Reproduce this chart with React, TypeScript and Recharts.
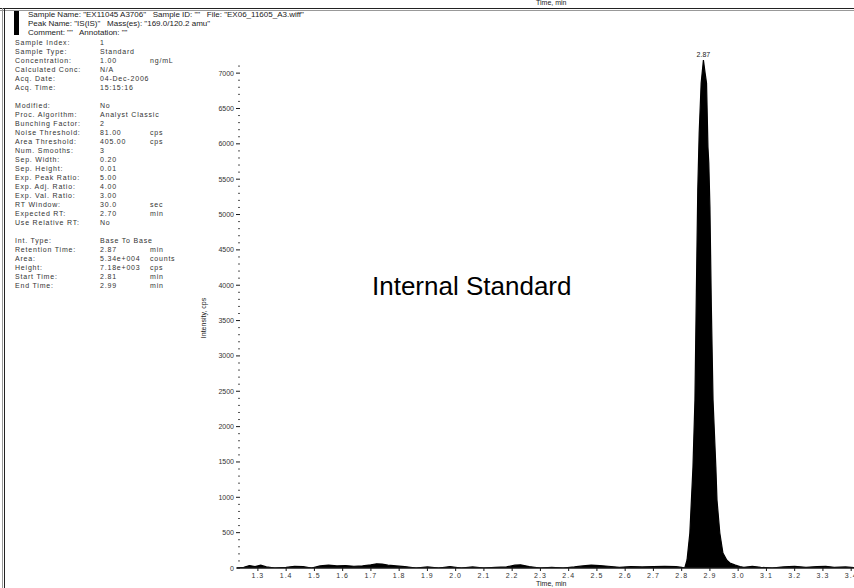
import React from 'react';
import { AreaChart, Area, XAxis, YAxis } from 'recharts';

// Retention time (min) and intensity (cps)
const times = [
  1.226, 1.25, 1.27, 1.29, 1.31, 1.33, 1.36, 1.40, 1.43, 1.46, 1.49, 1.52, 1.55, 1.58, 1.61, 1.64,
  1.67, 1.70, 1.72, 1.74, 1.76, 1.79, 1.82, 1.86, 1.90, 1.94, 1.98, 2.02, 2.06, 2.10, 2.14, 2.18,
  2.21, 2.23, 2.26, 2.30, 2.34, 2.38, 2.42, 2.45, 2.48, 2.51, 2.54, 2.58, 2.62, 2.66, 2.70, 2.74,
  2.78, 2.80,
  2.811, 2.819, 2.829, 2.840, 2.847, 2.852, 2.857, 2.862, 2.869, 2.877, 2.883, 2.888, 2.893, 2.896,
  2.900, 2.905, 2.911, 2.921, 2.925, 2.935, 2.946, 2.960, 2.971, 2.990, 3.006,
  3.02, 3.05, 3.08, 3.12, 3.16, 3.20, 3.24, 3.28, 3.31, 3.34, 3.38, 3.41,
];
const intensity = [
  0, 10, 35, 20, 40, 15, 0, 10, 25, 20, 0, 30, 40, 30, 35, 25,
  30, 45, 60, 55, 40, 30, 20, 0, 15, 0, 20, 0, 15, 0, 10, 15,
  40, 45, 20, 0, 10, 0, 15, 30, 40, 35, 25, 10, 20, 15, 20, 25,
  20, 10,
  0, 113, 495, 1429, 2376, 3900, 5346, 6153, 6860, 7185, 7000, 6860, 5955, 5728,
  5106, 3700, 2376, 1429, 962, 495, 212, 110, 71, 40, 20,
  10, 25, 10, 0, 15, 25, 10, 20, 25, 10, 15, 5,
];
const peakRT = '2.87';

const xTicks = [1.3, 1.4, 1.5, 1.6, 1.7, 1.8, 1.9, 2.0, 2.1, 2.2, 2.3, 2.4, 2.5, 2.6, 2.7, 2.8, 2.9, 3.0, 3.1, 3.2, 3.3, 3.4];
const yMajorTicks = [0, 500, 1000, 1500, 2000, 2500, 3000, 3500, 4000, 4500, 5000, 5500, 6000, 6500, 7000];

const headerLines = [
  'Sample Name: "EX11045 A3706"   Sample ID: ""   File: "EX06_11605_A3.wiff"',
  'Peak Name: "IS(IS)"   Mass(es): "169.0/120.2 amu"',
  'Comment: ""   Annotation: ""',
];

const infoRows: string[][] = [
  ['Sample Index:', '1', ''],
  ['Sample Type:', 'Standard', ''],
  ['Concentration:', '1.00', 'ng/mL'],
  ['Calculated Conc:', 'N/A', ''],
  ['Acq. Date:', '04-Dec-2006', ''],
  ['Acq. Time:', '15:15:16', ''],
  ['', '', ''],
  ['Modified:', 'No', ''],
  ['Proc. Algorithm:', 'Analyst Classic', ''],
  ['Bunching Factor:', '2', ''],
  ['Noise Threshold:', '81.00', 'cps'],
  ['Area Threshold:', '405.00', 'cps'],
  ['Num. Smooths:', '3', ''],
  ['Sep. Width:', '0.20', ''],
  ['Sep. Height:', '0.01', ''],
  ['Exp. Peak Ratio:', '5.00', ''],
  ['Exp. Adj. Ratio:', '4.00', ''],
  ['Exp. Val. Ratio:', '3.00', ''],
  ['RT Window:', '30.0', 'sec'],
  ['Expected RT:', '2.70', 'min'],
  ['Use Relative RT:', 'No', ''],
  ['', '', ''],
  ['Int. Type:', 'Base To Base', ''],
  ['Retention Time:', '2.87', 'min'],
  ['Area:', '5.34e+004', 'counts'],
  ['Height:', '7.18e+003', 'cps'],
  ['Start Time:', '2.81', 'min'],
  ['End Time:', '2.99', 'min'],
];

const data = times.map((t, i) => ({ t, v: intensity[i] }));
const peakIndex = intensity.indexOf(Math.max(...intensity));
const yTicks: number[] = [];
yMajorTicks.forEach((m) => {
  yTicks.push(m);
  if (m < 7000) for (let k = 1; k < 5; k++) yTicks.push(m + k * 100);
});
yTicks.push(7100);

const FONT = '"Liberation Sans", Arial, sans-serif';
const INK = '#1a1a1a';

const YTick = (props: any) => {
  const { x, y, payload } = props;
  const v = payload.value as number;
  const major = v % 500 === 0;
  return (
    <g>
      {major ? (
        <line x1={x - 1} x2={x + 3} y1={y} y2={y} stroke={INK} strokeWidth={1} />
      ) : (
        <line x1={x + 1} x2={x + 3} y1={y} y2={y} stroke="#555" strokeWidth={1} />
      )}
      {major && (
        <text x={x - 3} y={y} dy={2.5} textAnchor="end" fontSize={7} fill="#333" fontFamily={FONT}>
          {v}
        </text>
      )}
    </g>
  );
};

const XTick = (props: any) => {
  const { x, y, payload } = props;
  const v = payload.value as number;
  return (
    <g>
      <line x1={x} x2={x} y1={y} y2={y + 3} stroke={INK} strokeWidth={1} />
      <text x={x} y={y + 9.5} textAnchor="middle" fontSize={7} fill="#333" fontFamily={FONT} letterSpacing={1}>
        {v.toFixed(1)}
      </text>
    </g>
  );
};

const PeakLabel = (props: any) => {
  const { x, y, index } = props;
  if (index !== peakIndex) return null;
  return (
    <text x={x} y={y - 3} textAnchor="middle" fontSize={7} fill={INK} fontFamily={FONT}>
      {peakRT}
    </text>
  );
};

export default function App() {
  return (
    <div
      style={{
        position: 'absolute',
        left: 0,
        top: 0,
        width: 854,
        height: 588,
        background: '#fff',
        overflow: 'hidden',
        fontFamily: FONT,
        color: INK,
      }}
    >
      <AreaChart
        width={854}
        height={588}
        data={data}
        margin={{ top: 59, right: 0, bottom: 0, left: 0 }}
      >
        <XAxis
          dataKey="t"
          type="number"
          domain={[1.226, 3.41]}
          allowDataOverflow
          ticks={xTicks}
          interval={0}
          height={20}
          tickSize={0}
          tickMargin={0}
          tickLine={false}
          axisLine={{ stroke: INK, strokeWidth: 1.5 }}
          tick={<XTick />}
        />
        <YAxis
          type="number"
          domain={[0, 7200]}
          allowDataOverflow
          ticks={yTicks}
          interval={0}
          width={237}
          tickSize={0}
          tickMargin={0}
          tickLine={false}
          axisLine={false}
          tick={<YTick />}
        />
        <Area
          type="linear"
          dataKey="v"
          stroke="#000"
          strokeWidth={1.2}
          fill="#000"
          fillOpacity={1}
          isAnimationActive={false}
          dot={false}
          activeDot={false}
          label={<PeakLabel />}
        />
      </AreaChart>

      {/* frame lines */}
      <div style={{ position: 'absolute', left: 0, top: 8, width: 854, height: 1, background: '#222' }} />
      <div style={{ position: 'absolute', left: 0, top: 10, width: 854, height: 1, background: '#999' }} />
      <div style={{ position: 'absolute', left: 2, top: 8, width: 1, height: 580, background: '#999' }} />
      <div style={{ position: 'absolute', left: 4, top: 8, width: 1, height: 580, background: '#222' }} />

      {/* previous panel's axis title, cut off at the top */}
      <div style={{ position: 'absolute', left: 536, top: -1, fontSize: 7, whiteSpace: 'pre' }}>Time, min</div>

      {/* header */}
      <div style={{ position: 'absolute', left: 14, top: 11, width: 5, height: 24, background: '#000' }} />
      {headerLines.map((s, i) => (
        <div
          key={s}
          style={{ position: 'absolute', left: 28, top: 10 + i * 9, fontSize: 8, lineHeight: '9px', whiteSpace: 'pre' }}
        >
          {s}
        </div>
      ))}

      {/* info block */}
      {infoRows.map((r, i) => (
        <React.Fragment key={i}>
          <div style={{ position: 'absolute', left: 15, top: 38 + i * 9, fontSize: 7, lineHeight: '9px', whiteSpace: 'pre', letterSpacing: 0.8, color: '#333' }}>
            {r[0]}
          </div>
          <div style={{ position: 'absolute', left: 100, top: 38 + i * 9, fontSize: 7, lineHeight: '9px', whiteSpace: 'pre', letterSpacing: 0.8, color: '#333' }}>
            {r[1]}
          </div>
          <div style={{ position: 'absolute', left: 150, top: 38 + i * 9, fontSize: 7, lineHeight: '9px', whiteSpace: 'pre', letterSpacing: 0.8, color: '#333' }}>
            {r[2]}
          </div>
        </React.Fragment>
      ))}

      {/* y-axis title */}
      <div
        style={{
          position: 'absolute',
          left: 203,
          top: 318,
          fontSize: 7,
          whiteSpace: 'pre',
          transform: 'translate(-50%, -50%) rotate(-90deg)',
        }}
      >
        Intensity, cps
      </div>

      {/* x-axis title */}
      <div style={{ position: 'absolute', left: 536, top: 580, fontSize: 7, lineHeight: '8px', whiteSpace: 'pre' }}>Time, min</div>

      {/* annotation */}
      <div style={{ position: 'absolute', left: 372, top: 271, fontSize: 26, lineHeight: '30px', whiteSpace: 'pre', color: '#000' }}>
        Internal Standard
      </div>
    </div>
  );
}
